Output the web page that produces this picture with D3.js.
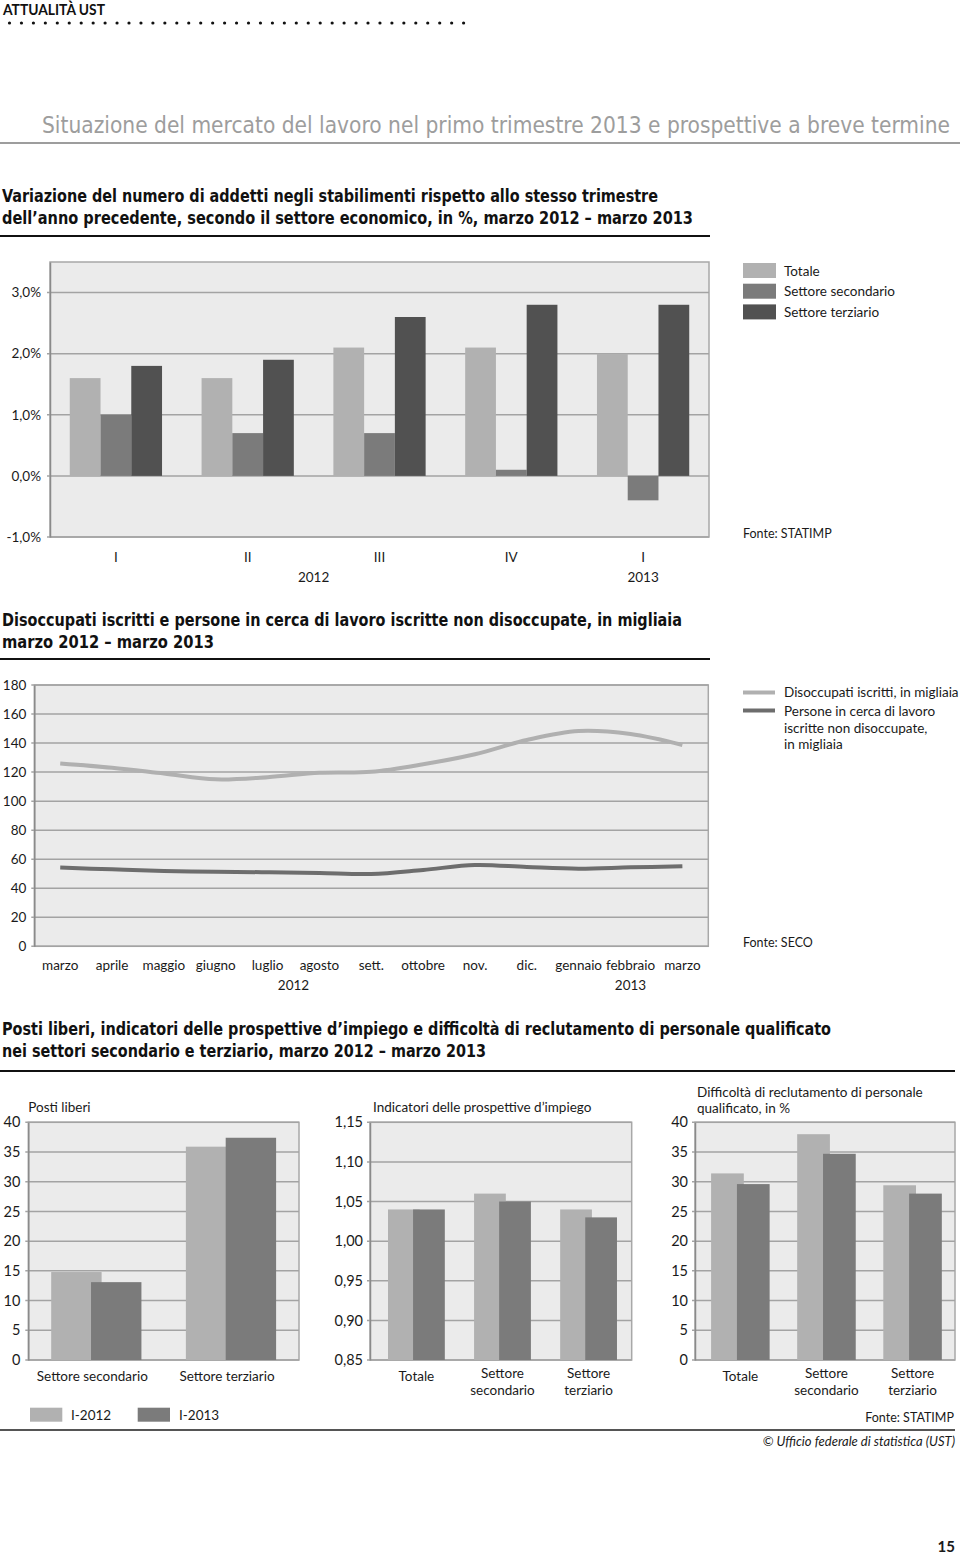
<!DOCTYPE html>
<html><head><meta charset="utf-8">
<script src="https://cdn.jsdelivr.net/npm/d3@7"></script>
<style>
body{margin:0;background:#fff}
svg{display:block}
text{font-family:Lato,"Open Sans","Noto Sans",sans-serif;fill:#1a1a1a}
.cond{font-family:"DejaVu Sans Condensed","Liberation Sans Narrow",Roboto,sans-serif;font-stretch:condensed}
</style>
</head><body>
<svg id="c" width="960" height="1556"></svg>
<script>
// ---------- DATA ----------
const quarterKeys = ["2012-I","2012-II","2012-III","2012-IV","2013-I"];
const quarterLabels = ["I","II","III","IV","I"];
const sectorSeries = ["Totale","Settore secondario","Settore terziario"];
const totale = [1.6,1.6,2.1,2.1,2.0];
const secondario = [1.0,0.7,0.7,0.1,-0.4];
const terziario = [1.8,1.9,2.6,2.8,2.8];
const pctTicks = [-1,0,1,2,3];

const months = ["marzo","aprile","maggio","giugno","luglio","agosto","sett.","ottobre","nov.","dic.","gennaio","febbraio","marzo"];
const disoccupati = [126,123,119,115,116.5,119.5,120.2,125.4,132.3,142.1,148.3,146.2,138.7];
const nonDisoccupati = [54.2,53,51.9,51.4,51,50.5,49.8,52.6,56,54.6,53.5,54.4,55.1];
const lineSeries = ["Disoccupati iscritti, in migliaia","Persone in cerca di lavoro","iscritte non disoccupate,","in migliaia"];
const countTicks = [0,20,40,60,80,100,120,140,160,180];

const periods = ["I-2012","I-2013"];
const postiCats = ["Settore secondario","Settore terziario"];
const posti2012 = [14.8,35.9];
const posti2013 = [13.1,37.4];
const postiTicks = [0,5,10,15,20,25,30,35,40];

const indCats = ["Totale","Settore secondario","Settore terziario"];
const ind2012 = [1.04,1.06,1.04];
const ind2013 = [1.04,1.05,1.03];
const indTicks = [0.85,0.90,0.95,1.00,1.05,1.10,1.15];

const diffCats = ["Totale","Settore secondario","Settore terziario"];
const diff2012 = [31.4,38.0,29.4];
const diff2013 = [29.6,34.7,28.0];
const diffTicks = [0,5,10,15,20,25,30,35,40];

// ---------- STYLE ----------
const C_LIGHT = "#b1b1b1", C_MID = "#7b7b7b", C_DARK = "#515151";
const BG = "#ebebeb", GRID = "#a3a3a3";
const svg = d3.select("#c");
svg.append("rect").attr("width",960).attr("height",1556).attr("fill","#fff");
const itFmt = (d, dec) => d.toFixed(dec).replace(".", ",");

// ---------- HEADER ----------
svg.append("text").attr("x",3).attr("y",15).attr("font-size",15).attr("font-weight",700)
  .attr("textLength",102).attr("lengthAdjust","spacingAndGlyphs")
  .style("fill","#111").text("ATTUALITÀ UST");
svg.append("g").selectAll("circle").data(d3.range(39)).join("circle")
  .attr("cx",d=>9.5+d*11.95).attr("cy",23).attr("r",1.6).attr("fill","#111");

svg.append("text").attr("class","cond").attr("x",42).attr("y",133).attr("font-size",22.5)
  .attr("textLength",908).attr("lengthAdjust","spacingAndGlyphs")
  .style("fill","#9d9d9d").text("Situazione del mercato del lavoro nel primo trimestre 2013 e prospettive a breve termine");
svg.append("line").attr("x1",0).attr("x2",960).attr("y1",143).attr("y2",143).attr("stroke","#9d9d9d").attr("stroke-width",2);

function title(lines, y0, lens, dy=22){
  lines.forEach((t,i)=>{
    svg.append("text").attr("class","cond").attr("x",2).attr("y",y0+i*dy).attr("font-size",17.5)
      .attr("font-weight",700).attr("textLength",lens[i]).attr("lengthAdjust","spacingAndGlyphs")
      .style("fill","#111").text(t);
  });
}

// ---------- CHART 1 ----------
title(["Variazione del numero di addetti negli stabilimenti rispetto allo stesso trimestre",
       "dell’anno precedente, secondo il settore economico, in %, marzo 2012 – marzo 2013"],202,[656,691]);
svg.append("line").attr("x1",0).attr("x2",710).attr("y1",236).attr("y2",236).attr("stroke","#111").attr("stroke-width",2);
{
  const L=50,R=709,T=262,B=537;
  const y = d3.scaleLinear().domain([-1,3.5]).range([B,T]);
  const x0 = d3.scaleBand().domain(quarterKeys).range([L,R]).paddingInner(0.3).paddingOuter(0.15);
  const x1 = d3.scaleBand().domain(sectorSeries).range([0,x0.bandwidth()]);
  const col = d3.scaleOrdinal().domain(sectorSeries).range([C_LIGHT,C_MID,C_DARK]);
  const g = svg.append("g");
  g.append("rect").attr("x",L).attr("y",T).attr("width",R-L).attr("height",B-T).attr("fill",BG).attr("stroke","#a8a8a8").attr("stroke-width",1.5);
  g.append("g").selectAll("line").data(pctTicks).join("line")
    .attr("x1",L-3).attr("x2",R).attr("y1",d=>y(d)).attr("y2",d=>y(d)).attr("stroke",GRID).attr("stroke-width",1.5);
  const ax = g.append("g").attr("transform",`translate(${L},0)`)
    .call(d3.axisLeft(y).tickValues(pctTicks).tickSize(0).tickPadding(9).tickFormat(d=>itFmt(d,1)+"%"));
  ax.select(".domain").attr("stroke","#8a8a8a").attr("stroke-width",1.5);
  ax.selectAll("text").attr("font-size",13.5).style("font-family","Lato,sans-serif").style("fill","#1a1a1a");
  const series = [totale,secondario,terziario];
  quarterKeys.forEach((q,i)=>{
    sectorSeries.forEach((s,j)=>{
      const v = series[j][i];
      g.append("rect").attr("x",x0(q)+x1(s)).attr("width",x1.bandwidth())
        .attr("y",y(Math.max(0,v))).attr("height",Math.abs(y(v)-y(0))).attr("fill",col(s));
    });
  });
  g.append("g").selectAll("text").data(quarterKeys).join("text")
    .attr("x",d=>x0(d)+x0.bandwidth()/2).attr("y",562).attr("text-anchor","middle").attr("font-size",13.5)
    .text((d,i)=>quarterLabels[i]);
  const mid12 = (x0("2012-I")+x0("2012-IV")+x0.bandwidth())/2;
  g.append("text").attr("x",mid12).attr("y",582).attr("text-anchor","middle").attr("font-size",13.5).text("2012");
  g.append("text").attr("x",x0("2013-I")+x0.bandwidth()/2).attr("y",582).attr("text-anchor","middle").attr("font-size",13.5).text("2013");
  // legend
  const lg = svg.append("g").attr("transform","translate(743,263)");
  sectorSeries.forEach((s,i)=>{
    lg.append("rect").attr("x",0).attr("y",i*20.7).attr("width",33).attr("height",15).attr("fill",col(s));
    lg.append("text").attr("x",41).attr("y",i*20.7+12.5).attr("font-size",13.5).text(s);
  });
  svg.append("text").attr("x",743).attr("y",538).attr("font-size",12.5).text("Fonte: STATIMP");
}

// ---------- CHART 2 ----------
title(["Disoccupati iscritti e persone in cerca di lavoro iscritte non disoccupate, in migliaia",
       "marzo 2012 – marzo 2013"],626,[680,212],21.5);
svg.append("line").attr("x1",0).attr("x2",710).attr("y1",659).attr("y2",659).attr("stroke","#111").attr("stroke-width",2);
{
  const L=34.3,R=708.3,T=685,B=946.3;
  const y = d3.scaleLinear().domain([0,180]).range([B,T]);
  const x = d3.scalePoint().domain(d3.range(months.length)).range([L,R]).padding(0.5);
  const g = svg.append("g");
  g.append("rect").attr("x",L).attr("y",T).attr("width",R-L).attr("height",B-T).attr("fill",BG).attr("stroke","#a8a8a8").attr("stroke-width",1.5);
  g.append("g").selectAll("line").data(countTicks).join("line")
    .attr("x1",L-3).attr("x2",R).attr("y1",d=>y(d)).attr("y2",d=>y(d)).attr("stroke",GRID).attr("stroke-width",1.5);
  const ax = g.append("g").attr("transform",`translate(${L},0)`)
    .call(d3.axisLeft(y).tickValues(countTicks).tickSize(0).tickPadding(8).tickFormat(d3.format("d")));
  ax.select(".domain").attr("stroke","#8a8a8a").attr("stroke-width",1.5);
  ax.selectAll("text").attr("font-size",13.5).style("font-family","Lato,sans-serif").style("fill","#1a1a1a");
  const line = d3.line().x((d,i)=>x(i)).y(d=>y(d)).curve(d3.curveCatmullRom);
  g.append("path").datum(disoccupati).attr("d",line).attr("fill","none").attr("stroke","#b0b0b0").attr("stroke-width",4);
  g.append("path").datum(nonDisoccupati).attr("d",line).attr("fill","none").attr("stroke","#6d6d6d").attr("stroke-width",4);
  g.append("g").selectAll("text").data(months).join("text")
    .attr("x",(d,i)=>x(i)).attr("y",970).attr("text-anchor","middle").attr("font-size",13.5).text(d=>d);
  g.append("text").attr("x",(x(4)+x(5))/2).attr("y",990).attr("text-anchor","middle").attr("font-size",13.5).text("2012");
  g.append("text").attr("x",x(11)).attr("y",990).attr("text-anchor","middle").attr("font-size",13.5).text("2013");
  const lg = svg.append("g");
  lg.append("line").attr("x1",743).attr("x2",775).attr("y1",692.5).attr("y2",692.5).attr("stroke","#b0b0b0").attr("stroke-width",4);
  lg.append("line").attr("x1",743).attr("x2",775).attr("y1",710.5).attr("y2",710.5).attr("stroke","#6d6d6d").attr("stroke-width",4);
  lineSeries.forEach((t,i)=>{
    lg.append("text").attr("x",784).attr("y",[697,716,733,749][i]).attr("font-size",13.5).text(t);
  });
  svg.append("text").attr("x",743).attr("y",947).attr("font-size",12.5).text("Fonte: SECO");
}

// ---------- SECTION 3 ----------
title(["Posti liberi, indicatori delle prospettive d’impiego e difficoltà di reclutamento di personale qualificato",
       "nei settori secondario e terziario, marzo 2012 – marzo 2013"],1035,[829,484],21.5);
svg.append("line").attr("x1",0).attr("x2",955).attr("y1",1071).attr("y2",1071).attr("stroke","#111").attr("stroke-width",2);

function smallChart(o){
  const {L,R,T,B,domain,ticks,cats,v1,v2,tickFmt,pi,po,align,labelPad} = o;
  const y = d3.scaleLinear().domain(domain).range([B,T]);
  const x = d3.scaleBand().domain(cats).range([L,R]).paddingInner(pi).paddingOuter(po).align(align);
  const W = x.bandwidth()/1.79;
  const g = svg.append("g");
  g.append("rect").attr("x",L).attr("y",T).attr("width",R-L).attr("height",B-T).attr("fill",BG).attr("stroke","#a8a8a8").attr("stroke-width",1.5);
  g.append("g").selectAll("line").data(ticks).join("line")
    .attr("x1",L-3).attr("x2",R).attr("y1",d=>y(d)).attr("y2",d=>y(d)).attr("stroke",GRID).attr("stroke-width",1.5);
  const ax = g.append("g").attr("transform",`translate(${L},0)`)
    .call(d3.axisLeft(y).tickValues(ticks).tickSize(0).tickPadding(labelPad).tickFormat(tickFmt));
  ax.select(".domain").attr("stroke","#8a8a8a").attr("stroke-width",1.5);
  ax.selectAll("text").attr("font-size",14.5).style("font-family","Lato,sans-serif").style("fill","#1a1a1a");
  cats.forEach((c,i)=>{
    g.append("rect").attr("x",x(c)).attr("width",W).attr("y",y(v1[i])).attr("height",B-y(v1[i])).attr("fill",C_LIGHT);
    g.append("rect").attr("x",x(c)+x.bandwidth()-W).attr("width",W).attr("y",y(v2[i])).attr("height",B-y(v2[i])).attr("fill",C_MID);
  });
  return {x,g};
}

// Posti liberi
{
  const {x,g} = smallChart({L:28.3,R:299,T:1122.3,B:1360,domain:[0,40],ticks:postiTicks,cats:postiCats,
    v1:posti2012,v2:posti2013,tickFmt:d3.format("d"),pi:0.33,po:0.17,align:0.5,labelPad:8});
  g.append("g").selectAll("text").data(postiCats).join("text")
    .attr("x",d=>x(d)+x.bandwidth()/2-4).attr("y",1381).attr("text-anchor","middle").attr("font-size",13.5).text(d=>d);
  svg.append("text").attr("x",28.3).attr("y",1112).attr("font-size",13.5).text("Posti liberi");
  const lg = svg.append("g");
  periods.forEach((p,i)=>{
    lg.append("rect").attr("x",30+i*107.7).attr("y",1407.7).attr("width",32.3).attr("height",14).attr("fill",i? C_MID: C_LIGHT);
    lg.append("text").attr("x",71+i*108).attr("y",1419.5).attr("font-size",13.5).text(p);
  });
}
// Indicatori
{
  const {x,g} = smallChart({L:370,R:631.7,T:1122.3,B:1360,domain:[0.85,1.15],ticks:indTicks,cats:indCats,
    v1:ind2012,v2:ind2013,tickFmt:d=>itFmt(d,2),pi:0.34,po:0.19,align:0.55,labelPad:7});
  indCats.forEach(c=>{
    const cx = x(c)+x.bandwidth()/2;
    const parts = c.split(" ");
    if(parts.length===1){
      g.append("text").attr("x",cx).attr("y",1381).attr("text-anchor","middle").attr("font-size",13.5).text(c);
    } else {
      parts.forEach((p,k)=>g.append("text").attr("x",cx).attr("y",1378+k*17).attr("text-anchor","middle").attr("font-size",13.5).text(p));
    }
  });
  svg.append("text").attr("x",373).attr("y",1112).attr("font-size",13.5).text("Indicatori delle prospettive d’impiego");
}
// Difficoltà
{
  const {x,g} = smallChart({L:695,R:955,T:1122.3,B:1360,domain:[0,40],ticks:diffTicks,cats:diffCats,
    v1:diff2012,v2:diff2013,tickFmt:d3.format("d"),pi:0.32,po:0.17,align:0.55,labelPad:7});
  diffCats.forEach(c=>{
    const cx = x(c)+x.bandwidth()/2;
    const parts = c.split(" ");
    if(parts.length===1){
      g.append("text").attr("x",cx).attr("y",1381).attr("text-anchor","middle").attr("font-size",13.5).text(c);
    } else {
      parts.forEach((p,k)=>g.append("text").attr("x",cx).attr("y",1378+k*17).attr("text-anchor","middle").attr("font-size",13.5).text(p));
    }
  });
  svg.append("text").attr("x",697).attr("y",1097).attr("font-size",13.5).text("Difficoltà di reclutamento di personale");
  svg.append("text").attr("x",697).attr("y",1113).attr("font-size",13.5).text("qualificato, in %");
}
svg.append("text").attr("x",954).attr("y",1422).attr("text-anchor","end").attr("font-size",12.5).text("Fonte: STATIMP");
svg.append("line").attr("x1",0).attr("x2",955).attr("y1",1430).attr("y2",1430).attr("stroke","#555").attr("stroke-width",2);
svg.append("text").attr("x",955).attr("y",1446).attr("text-anchor","end").attr("font-size",13).attr("font-style","italic").text("© Ufficio federale di statistica (UST)");
svg.append("text").attr("x",955).attr("y",1552).attr("text-anchor","end").attr("font-size",15).attr("font-weight",700).text("15");
</script>
</body></html>
